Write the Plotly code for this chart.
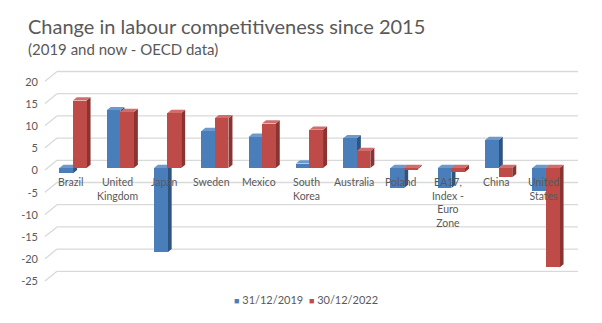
import plotly.graph_objects as go

categories = ["Brazil", "United<br>Kingdom", "Japan", "Sweden", "Mexico", "South<br>Korea",
              "Australia", "Poland", "EA17,<br>Index -<br>Euro<br>Zone", "China", "United<br>States"]
series_names = ["31/12/2019", "30/12/2022"]
values_2019 = [-1.2, 13.0, -19.0, 8.3, 7.0, 1.0, 6.7, -4.5, -4.5, 6.3, -5.2]
values_2022 = [15.2, 12.6, 12.4, 11.2, 10.0, 8.6, 3.8, -0.3, -0.9, -2.1, -22.4]
y_ticks = [20, 15, 10, 5, 0, -5, -10, -15, -20, -25]

FONT = "Lato"
GREY = "#595959"
W, H = 602, 323
L, R, T, B = 45, 24, 60, 33
PW, PH = W - L - R, H - T - B
PX_PER_UNIT = 4.44
ZERO_PX = 168  # pixel y of value 0 (front face)
y_hi = (ZERO_PX - T) / PX_PER_UNIT
y_lo = -(T + PH - ZERO_PX) / PX_PER_UNIT

CAT_PX = 47.3
FIRST_PX = 70
x_lo = (L - FIRST_PX) / CAT_PX
x_hi = (L + PW - FIRST_PX) / CAT_PX

fronts = ["#4a7ebb", "#be4b48"]
sides = ["#2f5480", "#8a3331"]
tops = ["#6f98cc", "#d06e6b"]
offsets = [-0.225, 0.06]
BW = 0.29
DX = 4.0 / CAT_PX
DY = 3.3 / PX_PER_UNIT
GRID_SHIFT = 7.7 / PX_PER_UNIT

fig = go.Figure()
xs = list(range(len(categories)))
for s, vals in enumerate([values_2019, values_2022]):
    fig.add_trace(go.Bar(
        x=xs, y=vals, name=series_names[s], offset=offsets[s], width=BW,
        marker=dict(color=fronts[s], line=dict(width=0)),
        hoverinfo="y", showlegend=False))

shapes = []
# back-wall gridlines and left-wall diagonals
gx0 = (57 - L) / PW
for v in y_ticks:
    shapes.append(dict(type="line", xref="paper", yref="y", x0=gx0, x1=1.0,
                       y0=v + GRID_SHIFT, y1=v + GRID_SHIFT, layer="below",
                       line=dict(color="#d9d9d9", width=1.3)))
    shapes.append(dict(type="line", xref="paper", yref="y", x0=0.0, x1=gx0,
                       y0=v - 0.45, y1=v + GRID_SHIFT, layer="below",
                       line=dict(color="#d9d9d9", width=1.3)))

# 3D faces (side and top) derived from the data
for s, vals in enumerate([values_2019, values_2022]):
    for i, v in enumerate(vals):
        xl = i + offsets[s]
        xr = xl + BW
        ybot, ytop = min(0, v), max(0, v)
        side = (f"M{xr},{ybot} L{xr + DX},{ybot + DY} L{xr + DX},{ytop + DY} L{xr},{ytop} Z")
        top = (f"M{xl},{ytop} L{xl + DX},{ytop + DY} L{xr + DX},{ytop + DY} L{xr},{ytop} Z")
        shapes.append(dict(type="path", xref="x", yref="y", path=side, layer="below",
                           fillcolor=sides[s], line=dict(width=0)))
        shapes.append(dict(type="path", xref="x", yref="y", path=top, layer="below",
                           fillcolor=tops[s], line=dict(width=0)))

annotations = [
    dict(text="Change in labour competitiveness since 2015", xref="paper", yref="paper",
         x=(26 - L) / PW, y=(H - B - 26) / PH, xanchor="left", yanchor="middle",
         showarrow=False, font=dict(family=FONT, size=20, color=GREY)),
    dict(text="(2019 and now - OECD data)", xref="paper", yref="paper",
         x=(26 - L) / PW, y=(H - B - 49) / PH, xanchor="left", yanchor="middle",
         showarrow=False, font=dict(family=FONT, size=15, color=GREY)),
]
for i, c in enumerate(categories):
    annotations.append(dict(text=c, x=i, y=0, xref="x", yref="y", yanchor="top",
                            xanchor="center", yshift=-6, showarrow=False,
                            font=dict(family=FONT, size=10.5, color=GREY)))

# legend (series names with coloured square keys)
legend_text = "  ".join(
    f"<span style='color:{fronts[s]};font-size:9px'>■</span> {series_names[s]}"
    for s in range(len(series_names)))
annotations.append(dict(text=legend_text, xref="paper", yref="paper",
                        x=(306 - L) / PW, y=(H - B - 299) / PH, xanchor="center",
                        yanchor="middle", showarrow=False,
                        font=dict(family=FONT, size=11, color=GREY)))

fig.update_layout(
    width=W, height=H, margin=dict(l=L, r=R, t=T, b=B),
    paper_bgcolor="white", plot_bgcolor="white",
    barmode="overlay", bargap=0, showlegend=False,
    font=dict(family=FONT, size=11, color=GREY),
    xaxis=dict(range=[x_lo, x_hi], showgrid=False, zeroline=False, showticklabels=False,
               showline=False, fixedrange=True),
    yaxis=dict(range=[y_lo, y_hi], showgrid=False, zeroline=False, showticklabels=False,
               showline=False),
    yaxis2=dict(range=[y_lo + 0.56, y_hi + 0.56], overlaying="y", side="left",
                tickvals=y_ticks, ticktext=[str(t) for t in y_ticks], showgrid=False,
                zeroline=False, showline=False, ticks="", ticklabelstandoff=6,
                tickfont=dict(family=FONT, size=11, color=GREY)),
    shapes=shapes, annotations=annotations,
)
# invisible helper trace to activate yaxis2 (tick labels)
fig.add_trace(go.Scatter(x=[0], y=[0], yaxis="y2", mode="markers",
                         marker=dict(opacity=0), showlegend=False, hoverinfo="skip"))

fig.write_html("out.html")
